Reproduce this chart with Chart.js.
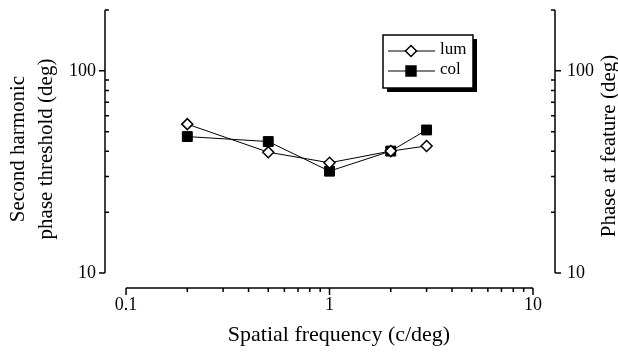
<!DOCTYPE html>
<html lang="en">
<head>
    <meta charset="UTF-8">
    <title>Second harmonic phase threshold</title>
    <script src="https://cdn.jsdelivr.net/npm/chart.js"></script>
    <style>
        html, body { margin: 0; padding: 0; background: #fff; }
        #wrap { width: 618px; height: 353px; }
    </style>
</head>
<body>
    <div id="wrap"><canvas id="phaseChart" width="618" height="353"></canvas></div>

    <script>
        // data
        const freq = [0.2, 0.5, 1, 2, 3];
        const lum = [54.5, 39.6, 35.1, 40.1, 42.5];
        const col = [47.3, 44.7, 31.9, 40.1, 51];
        const seriesNames = ['lum', 'col'];

        // axis labels shown
        const xTickLabels = [0.1, 1, 10];
        const yTickLabels = [10, 100];
        const xRange = [0.1, 10];
        const yRange = [10, 200];

        const serif = '"Liberation Serif", "Times New Roman", serif';

        function isDecade(v, list) {
            return list.some(t => Math.abs(Math.log10(v) - Math.log10(t)) < 1e-6);
        }

        // draws the detached axis lines, tick marks, legend box and the two titles
        const decor = {
            id: 'decor',
            afterDraw(chart) {
                const ctx = chart.ctx;
                const x = chart.scales.x, y = chart.scales.y;
                const ca = chart.chartArea;
                ctx.save();
                ctx.strokeStyle = '#000';
                ctx.lineWidth = 1.5;

                const yTop = y.getPixelForValue(yRange[1]);
                const yBot = y.getPixelForValue(yRange[0]);
                const xL = x.getPixelForValue(xRange[0]);
                const xR = x.getPixelForValue(xRange[1]);

                ctx.beginPath();
                // left and right vertical axes
                [[ca.left, -1], [ca.right, 1]].forEach(([ax, dir]) => {
                    ctx.moveTo(ax, yTop); ctx.lineTo(ax, yBot);
                    for (let d = 10; d <= 200; d += (d < 100 ? 10 : 100)) {
                        const py = y.getPixelForValue(d);
                        if (d === 10 || d === 100) {
                            ctx.moveTo(ax, py); ctx.lineTo(ax + dir * 6, py);
                        } else {
                            ctx.moveTo(ax, py); ctx.lineTo(ax - dir * 4, py);
                        }
                    }
                });
                // bottom axis
                const by = ca.bottom;
                ctx.moveTo(xL, by); ctx.lineTo(xR, by);
                for (let e = -1; e <= 0; e++) {
                    for (let m = 1; m <= 10; m++) {
                        const v = m * Math.pow(10, e);
                        const px = x.getPixelForValue(v);
                        const len = (m === 1 || m === 10) ? 7 : 4;
                        ctx.moveTo(px, by); ctx.lineTo(px, by + len);
                    }
                }
                ctx.stroke();

                // legend with drop shadow
                const lx = 383, ly = 35, lw = 90, lh = 53;
                ctx.fillStyle = '#000';
                ctx.fillRect(lx + 4, ly + 4, lw, lh);
                ctx.fillStyle = '#fff';
                ctx.fillRect(lx, ly, lw, lh);
                ctx.lineWidth = 1.5;
                ctx.strokeRect(lx, ly, lw, lh);
                ctx.font = '17px ' + serif;
                ctx.textBaseline = 'middle';
                chart.data.datasets.forEach((ds, i) => {
                    const rowY = ly + 16 + i * 20;
                    ctx.lineWidth = 1;
                    ctx.beginPath();
                    ctx.moveTo(lx + 5, rowY); ctx.lineTo(lx + 52, rowY);
                    ctx.stroke();
                    ctx.lineWidth = 1.5;
                    ctx.fillStyle = ds.pointBackgroundColor;
                    Chart.helpers.drawPoint(ctx, {
                        pointStyle: ds.pointStyle, radius: ds.pointRadius, rotation: 0, borderWidth: 1.5
                    }, lx + 28, rowY);
                    ctx.fillStyle = '#000';
                    ctx.fillText(ds.label, lx + 57, rowY - 1);
                });

                // x axis title
                ctx.fillStyle = '#000';
                ctx.textAlign = 'center';
                ctx.font = '22px ' + serif;
                ctx.fillText('Spatial frequency (c/deg)', 339, 335);

                // right axis title, reading bottom to top
                ctx.translate(609, 146);
                ctx.rotate(-Math.PI / 2);
                ctx.font = '21px ' + serif;
                ctx.fillText('Phase at feature (deg)', 0, 0);
                ctx.restore();
            }
        };

        const fixSize = (w, h) => (s) => {
            if (w !== null) s.width = w;
            if (h !== null) s.height = h;
            s.paddingTop = 0; s.paddingBottom = 0;
            s.paddingLeft = 0; s.paddingRight = 0;
        };

        const ctx = document.getElementById('phaseChart').getContext('2d');
        new Chart(ctx, {
            type: 'line',
            data: {
                datasets: [
                    {
                        label: seriesNames[0],
                        data: freq.map((f, i) => ({ x: f, y: lum[i] })),
                        borderColor: '#000',
                        borderWidth: 1,
                        pointStyle: 'rectRot',
                        pointRadius: 5.5,
                        pointBackgroundColor: '#fff',
                        pointBorderColor: '#000',
                        pointBorderWidth: 1.5,
                        tension: 0
                    },
                    {
                        label: seriesNames[1],
                        data: freq.map((f, i) => ({ x: f, y: col[i] })),
                        borderColor: '#000',
                        borderWidth: 1,
                        pointStyle: 'rect',
                        pointRadius: 7,
                        pointBackgroundColor: '#000',
                        pointBorderColor: '#000',
                        pointBorderWidth: 1,
                        tension: 0
                    }
                ]
            },
            options: {
                responsive: false,
                animation: false,
                layout: { padding: { top: 10, left: 0, right: 0, bottom: 0 } },
                plugins: { legend: { display: false }, tooltip: { enabled: false } },
                scales: {
                    x: {
                        type: 'logarithmic',
                        min: 0.0788, max: 12.83,
                        grid: { display: false, drawTicks: false },
                        border: { display: false },
                        afterFit: fixSize(null, 65),
                        ticks: {
                            autoSkip: false, maxRotation: 0, padding: 6,
                            color: '#000', font: { family: serif, size: 18 },
                            callback: v => isDecade(v, xTickLabels) ? String(+v.toPrecision(3)) : ''
                        }
                    },
                    y: {
                        type: 'logarithmic', position: 'left',
                        min: 8.43, max: yRange[1],
                        grid: { display: false, drawTicks: false },
                        border: { display: false },
                        afterFit: fixSize(105, null),
                        ticks: {
                            autoSkip: false, padding: 9,
                            color: '#000', font: { family: serif, size: 18 },
                            callback: v => isDecade(v, yTickLabels) ? String(Math.round(v)) : ''
                        },
                        title: {
                            display: true, text: ['Second harmonic', 'phase threshold (deg)'], color: '#000',
                            font: { family: serif, size: 21, lineHeight: 1.33 }, padding: { top: 5, bottom: 0 }
                        }
                    },
                    y2: {
                        type: 'logarithmic', position: 'right',
                        min: 8.43, max: yRange[1],
                        grid: { display: false, drawTicks: false },
                        border: { display: false },
                        afterFit: fixSize(63, null),
                        ticks: {
                            autoSkip: false, padding: 12,
                            color: '#000', font: { family: serif, size: 18 },
                            callback: v => isDecade(v, yTickLabels) ? String(Math.round(v)) : ''
                        }
                    }
                }
            },
            plugins: [decor]
        });
    </script>
</body>
</html>
